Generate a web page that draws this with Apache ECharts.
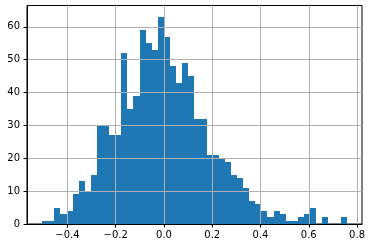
<!DOCTYPE html>
<html>
<head>
<meta charset="utf-8">
<script src="https://cdn.jsdelivr.net/npm/echarts@6/dist/echarts.min.js"></script>
<style>
html,body{margin:0;padding:0;background:#fff;}
#chart{width:371px;height:248px;}
</style>
</head>
<body>
<div id="chart"></div>
<script>
// Histogram counts (50 bins)
const counts = [1, 1, 5, 3, 4, 9, 13, 10, 15, 30,
                30, 27, 27, 52, 35, 39, 59, 55, 53, 63,
                57, 48, 43, 49, 45, 32, 32, 21, 21, 20,
                19, 15, 14, 11, 7, 6, 4, 2, 4, 3,
                1, 1, 2, 3, 5, 0, 2, 0, 0, 2];
const binStart = -0.5047;
const binWidth = 0.02523;
const xTicks = [-0.4, -0.2, 0.0, 0.2, 0.4, 0.6, 0.8];
const xTickLabels = ['\u22120.4', '\u22120.2', '0.0', '0.2', '0.4', '0.6', '0.8'];
const yTicks = [0, 10, 20, 30, 40, 50, 60];
const yTickLabels = ['0', '10', '20', '30', '40', '50', '60'];

const bars = counts.map((c, i) => [binStart + i * binWidth, binStart + (i + 1) * binWidth, c]);

const chart = echarts.init(document.getElementById('chart'), null, {renderer: 'canvas'});
const font = {fontFamily: 'DejaVu Sans', fontSize: 10, color: '#000'};
chart.setOption({
  animation: false,
  backgroundColor: '#fff',
  grid: {left: 27, right: 9, top: 5.5, bottom: 24, show: true, borderColor: '#000', borderWidth: 1, backgroundColor: 'transparent'},
  xAxis: {
    type: 'value', min: -0.5675, max: 0.8205, z: 5,
    axisLine: {show: true, onZero: false, lineStyle: {color: '#000', width: 1}},
    axisTick: {show: true, inside: false, length: 3.5, lineStyle: {color: '#000', width: 1}, customValues: xTicks},
    axisLabel: Object.assign({margin: 6, customValues: xTicks,
      formatter: v => { const i = xTicks.findIndex(t => Math.abs(t - v) < 1e-9); return i >= 0 ? xTickLabels[i] : ''; }}, font),
    splitLine: {show: true, lineStyle: {color: '#b0b0b0', width: 1}}
  },
  yAxis: {
    type: 'value', min: 0, max: 66.5, z: 5,
    axisLine: {show: true, onZero: false, lineStyle: {color: '#000', width: 1}},
    axisTick: {show: true, inside: false, length: 3.5, lineStyle: {color: '#000', width: 1}, customValues: yTicks},
    axisLabel: Object.assign({margin: 7, customValues: yTicks,
      formatter: v => { const i = yTicks.indexOf(v); return i >= 0 ? yTickLabels[i] : ''; }}, font),
    splitLine: {show: true, lineStyle: {color: '#b0b0b0', width: 1}}
  },
  series: [{
    type: 'custom',
    z: 1,
    data: bars,
    encode: {x: [0, 1], y: 2},
    renderItem: function (params, api) {
      const p0 = api.coord([api.value(0), api.value(2)]);
      const p1 = api.coord([api.value(1), 0]);
      const x0 = Math.round(p0[0]), x1 = Math.round(p1[0]);
      const y0 = Math.round(p0[1]), y1 = Math.round(p1[1]);
      return {
        type: 'rect',
        shape: {x: x0, y: y0, width: x1 - x0, height: y1 - y0},
        style: {fill: '#1f77b4', stroke: null}
      };
    }
  }]
});
</script>
</body>
</html>
